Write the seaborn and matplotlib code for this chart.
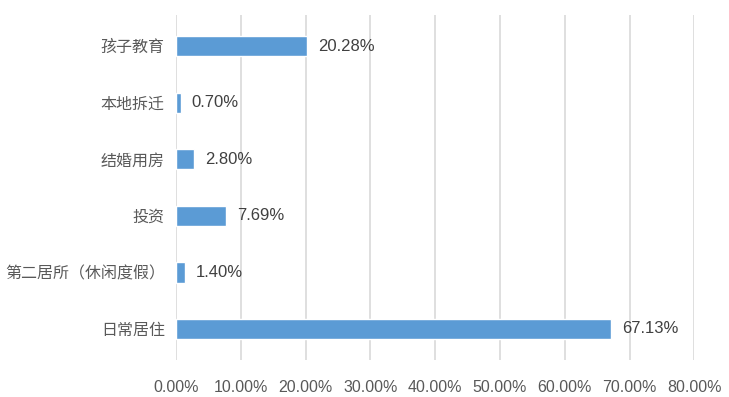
import matplotlib
matplotlib.use('Agg')
import matplotlib.pyplot as plt
import seaborn as sb
import pandas as pd
from matplotlib.ticker import FuncFormatter

# Data
categories = ['孩子教育', '本地拆迁', '结婚用房', '投资', '第二居所（休闲度假）', '日常居住']
shares = [20.28, 0.70, 2.80, 7.69, 1.40, 67.13]
xticks = [0, 10, 20, 30, 40, 50, 60, 70, 80]

df = pd.DataFrame({'purpose': categories, 'share': shares})

sb.set_style('white')
plt.rcParams['font.family'] = ['Liberation Sans', 'Noto Sans CJK SC', 'DejaVu Sans']

fig = plt.figure(figsize=(7.29, 3.97), dpi=100)
ax = fig.add_axes([0.2414, 0.093, 0.711, 0.869])

sb.barplot(data=df, x='share', y='purpose', color='#5B9BD5', width=0.36,
           saturation=1, ax=ax, zorder=3)

# Value labels
for i, v in enumerate(shares):
    ax.text(v + 1.7, i, f'{v:.2f}%', va='center', ha='left',
            fontsize=12, color='#404040')

ax.set_xlim(0, 80)
ax.set_ylim(5.55, -0.55)
ax.set_xticks(xticks)
ax.xaxis.set_major_formatter(FuncFormatter(lambda v, p: f'{v:.2f}%'))
ax.grid(axis='x', color='#D9D9D9', linewidth=1.2, zorder=0)
ax.set_axisbelow(True)
for s in ax.spines.values():
    s.set_visible(False)
ax.tick_params(axis='both', length=0, colors='#595959')
ax.tick_params(axis='x', pad=14, labelsize=11.5)
ax.tick_params(axis='y', pad=8, labelsize=11.5)
ax.set_xlabel('')
ax.set_ylabel('')

fig.savefig('out.png', dpi=100)
